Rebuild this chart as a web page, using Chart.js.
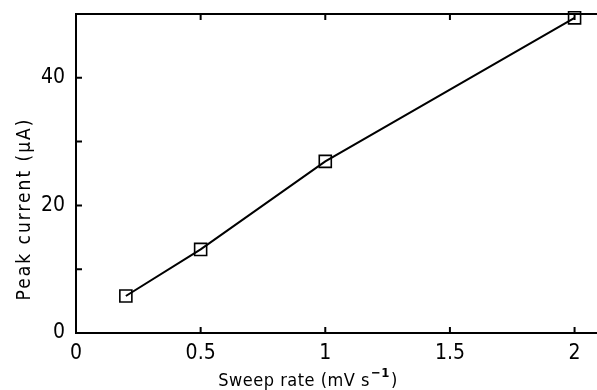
<!DOCTYPE html>
<html lang="en">
<head>
    <meta charset="UTF-8">
    <title>Peak current vs sweep rate</title>
    <script src="https://cdn.jsdelivr.net/npm/chart.js"></script>
    <style>
      html, body { margin: 0; padding: 0; background: #ffffff; }
      #box { width: 597px; height: 390px; }
    </style>
</head>
<body>
  <div id="box"><canvas id="grafico"></canvas></div>
  <script>
    // dados
    const taxaVarredura = [0.2, 0.5, 1, 2];
    const correntePico = [5.8, 13.1, 26.9, 49.4];
    const ticksX = [0, 0.5, 1, 1.5, 2];
    const ticksY = [0, 10, 20, 30, 40, 50];
    const rotulosY = [0, 20, 40];

    const fonte = "'Liberation Sans Narrow', 'DejaVu Sans Condensed', 'DejaVu Sans', sans-serif";

    // ticks para dentro, borda de cima e titulos dos eixos
    const molduraPlugin = {
      id: 'moldura',
      afterDraw(chart) {
        const ctx = chart.ctx;
        const a = chart.chartArea;
        const sx = chart.scales.x, sy = chart.scales.y;
        ctx.save();
        ctx.strokeStyle = '#000';
        ctx.lineWidth = 2;
        ctx.beginPath();
        ctx.moveTo(a.left, a.top);
        ctx.lineTo(a.right, a.top);
        ticksX.forEach(v => {
          if (v === 0) return;
          const px = sx.getPixelForValue(v);
          ctx.moveTo(px, a.bottom); ctx.lineTo(px, a.bottom - 6);
          ctx.moveTo(px, a.top); ctx.lineTo(px, a.top + 6);
        });
        ticksY.forEach(v => {
          if (v === 0 || v === 50) return;
          const py = sy.getPixelForValue(v);
          ctx.moveTo(a.left, py); ctx.lineTo(a.left + 6, py);
        });
        ctx.stroke();

        ctx.fillStyle = '#000';
        ctx.textBaseline = 'middle';
        ctx.letterSpacing = '0.5px';
        // titulo eixo x com expoente
        ctx.font = '18px ' + fonte;
        const base = 'Sweep rate (mV s';
        const sup = '\u22121';
        const fim = ')';
        const wBase = ctx.measureText(base).width;
        const wFim = ctx.measureText(fim).width;
        ctx.font = 'bold 13px ' + fonte;
        const wSup = ctx.measureText(sup).width;
        let x0 = 307 - (wBase + wSup + wFim) / 2;
        const yT = 381;
        ctx.font = '18px ' + fonte;
        ctx.textAlign = 'left';
        ctx.fillText(base, x0, yT);
        ctx.font = 'bold 13px ' + fonte;
        ctx.fillText(sup, x0 + wBase + 1, yT - 7);
        ctx.font = '18px ' + fonte;
        ctx.fillText(fim, x0 + wBase + wSup + 2, yT);

        // titulo eixo y
        ctx.letterSpacing = '2px';
        ctx.font = '19px ' + fonte;
        ctx.translate(25, 209);
        ctx.rotate(-Math.PI / 2);
        ctx.textAlign = 'center';
        ctx.fillText('Peak current (\u00b5A)', 0, 0);
        ctx.restore();
      }
    };

    new Chart(document.getElementById('grafico'), {
      type: 'line',
      data: {
        datasets: [{
          data: taxaVarredura.map((x, i) => ({ x: x, y: correntePico[i] })),
          borderColor: '#000',
          borderWidth: 2,
          backgroundColor: 'rgba(0,0,0,0)',
          pointStyle: 'rect',
          pointRadius: 8.5,
          pointBorderWidth: 1.6,
          pointBorderColor: '#000',
          pointBackgroundColor: 'rgba(0,0,0,0)',
          tension: 0,
          fill: false,
          clip: false
        }]
      },
      options: {
        responsive: true,
        maintainAspectRatio: false,
        animation: false,
        layout: { autoPadding: false, padding: { top: 14, right: 0, left: 0, bottom: 0 } },
        plugins: {
          legend: { display: false },
          tooltip: { enabled: false }
        },
        scales: {
          x: {
            type: 'linear',
            min: 0,
            max: 2.09,
            afterBuildTicks: s => { s.ticks = ticksX.map(v => ({ value: v })); },
            afterFit: s => { s.height = 57; s.paddingLeft = 0; s.paddingRight = 0; },
            grid: { display: false, drawTicks: false },
            border: { display: true, color: '#000', width: 2 },
            ticks: {
              color: '#000',
              padding: 8,
              maxRotation: 0,
              font: { size: 21, family: fonte },
              callback: v => String(v)
            }
          },
          y: {
            type: 'linear',
            min: 0,
            max: 50,
            afterBuildTicks: s => { s.ticks = ticksY.map(v => ({ value: v })); },
            afterFit: s => { s.width = 76; s.paddingTop = 0; s.paddingBottom = 0; },
            grid: { display: false, drawTicks: false },
            border: { display: true, color: '#000', width: 2 },
            ticks: {
              color: '#000',
              padding: 11,
              font: { size: 21, family: fonte },
              callback: v => rotulosY.includes(v) ? String(v) : ''
            }
          }
        }
      },
      plugins: [molduraPlugin]
    });
  </script>
</body>
</html>
